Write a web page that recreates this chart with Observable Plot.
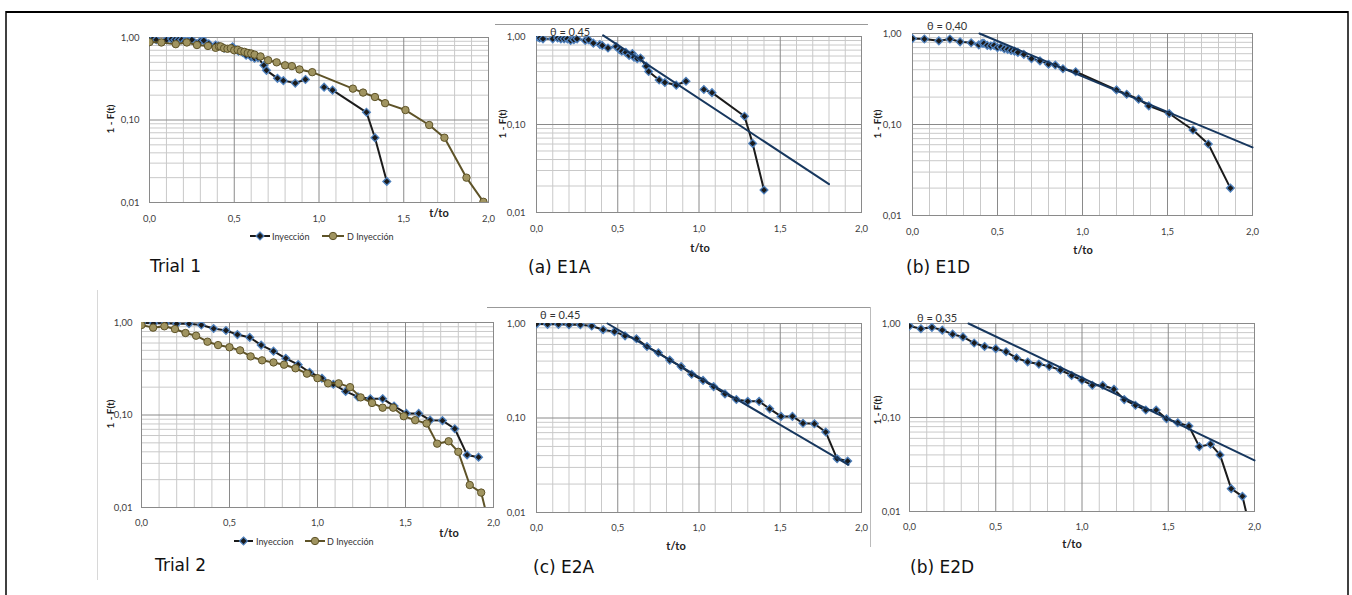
<!DOCTYPE html>
<html><head><meta charset="utf-8">
<script src="https://cdn.jsdelivr.net/npm/d3@7"></script>
<script src="https://cdn.jsdelivr.net/npm/@observablehq/plot@0.6"></script>
<style>
body{margin:0;background:#fff;}
#root{position:relative;width:1352px;height:595px;overflow:hidden;font-family:Lato,"Open Sans",sans-serif;}
#root svg.plotsvg{position:absolute;overflow:visible;}
.t{position:absolute;white-space:nowrap;line-height:1;color:#222;}
.cap{font-family:"DejaVu Sans",sans-serif;font-size:17px;color:#111;}
.yl{font-size:10px;font-weight:bold;transform:translate(-50%,-50%) rotate(-90deg);}
.xl{font-size:11px;font-weight:bold;}
.th{font-size:11px;color:#333;}
.lg{font-size:9px;color:#333;}
</style>
</head><body><div id="root"></div>
<script>
// ---------- data ----------
// Trial 1, Inyección (E1A)
const A1_t = [0.00,0.01,0.02,0.04,0.10,0.13,0.15,0.17,0.19,0.21,0.23,0.25,0.30,0.32,0.35,0.39,0.405,0.44,0.49,0.51,0.525,0.55,0.57,0.59,0.60,0.62,0.64,0.675,0.69,0.755,0.79,0.86,0.92,0.975,1.03,1.08,1.28,1.33,1.40];
const A1_y = [1.00,0.98,0.96,0.94,0.94,0.96,0.94,0.94,0.94,0.90,0.92,0.94,0.90,0.92,0.84,0.81,0.79,0.74,0.77,0.71,0.68,0.66,0.61,0.64,0.58,0.56,0.57,0.46,0.40,0.32,0.30,0.28,0.31,null,0.25,0.23,0.124,0.061,0.018];
// Trial 1, D Inyección (E1D)
const D1_t = [0.00,0.07,0.155,0.22,0.28,0.345,0.39,0.41,0.42,0.44,0.46,0.48,0.50,0.52,0.54,0.56,0.58,0.60,0.62,0.655,0.70,0.75,0.80,0.84,0.885,0.96,1.20,1.26,1.33,1.39,1.51,1.65,1.74,1.87];
const D1_y = [0.88,0.87,0.83,0.87,0.81,0.79,0.75,0.78,0.78,0.74,0.73,0.74,0.70,0.71,0.68,0.67,0.65,0.64,0.62,0.59,0.53,0.50,0.46,0.45,0.41,0.38,0.24,0.215,0.19,0.16,0.132,0.087,0.061,0.020];
const D1_tail_t = [1.97];
const D1_tail_y = [0.0102];
// Trial 2, Inyeccion (E2A)
const A2_t = [0.00,0.068,0.135,0.20,0.27,0.34,0.41,0.48,0.545,0.615,0.68,0.75,0.82,0.89,0.955,1.025,1.09,1.16,1.23,1.30,1.37,1.435,1.505,1.575,1.64,1.71,1.78,1.85,1.915];
const A2_y = [0.99,0.98,0.98,0.97,0.97,0.94,0.86,0.82,0.74,0.69,0.57,0.49,0.41,0.35,0.29,0.25,0.215,0.18,0.157,0.15,0.15,0.125,0.104,0.104,0.088,0.087,0.071,0.037,0.035];
// Trial 2, D Inyección (E2D)
const D2_t = [0.00,0.066,0.13,0.19,0.25,0.31,0.375,0.435,0.50,0.56,0.62,0.685,0.75,0.81,0.875,0.94,1.00,1.06,1.12,1.185,1.245,1.31,1.37,1.43,1.49,1.555,1.62,1.68,1.745,1.80,1.865,1.93,1.99];
const D2_y = [0.94,0.88,0.91,0.85,0.77,0.72,0.62,0.57,0.54,0.50,0.43,0.39,0.37,0.35,0.32,0.28,0.25,0.22,0.22,0.20,0.155,0.135,0.12,0.12,0.097,0.088,0.081,0.049,0.052,0.040,0.0175,0.0145,0.005];
// fitted lines (endpoints)
const fitE1A_t = [0.41, 1.80], fitE1A_y = [1.03, 0.021];
const fitE1D_t = [0.394, 2.0], fitE1D_y = [1.0, 0.056];
const fitE2A_t = [0.437, 1.92], fitE2A_y = [1.0, 0.032];
const fitE2D_t = [0.342, 2.0], fitE2D_y = [1.0, 0.035];
const thetaLabels = ["θ = 0,45", "θ = 0,40", "θ = 0.45", "θ = 0,35"];
const captions = ["Trial 1", "(a) E1A", "(b) E1D", "Trial 2", "(c) E2A", "(b) E2D"];
const legendNames1 = ["Inyección", "D Inyección"];
const legendNames2 = ["Inyeccion", "D Inyección"];
const xTicks = [0, 0.5, 1, 1.5, 2];
const xTickLabels = ["0,0", "0,5", "1,0", "1,5", "2,0"];
const yTicks = [0.01, 0.1, 1];
const yTickLabels = ["0,01", "0,10", "1,00"];
const xAxisTitle = "t/to", yAxisTitle = "1 - F(t)";

// ---------- helpers ----------
const root = document.getElementById("root");
const xMinor = d3.range(1, 20).filter(i => i % 5 !== 0).map(i => i / 10);
const xMajor = [0.5, 1, 1.5];
const yMinor = [0.01, 0.1].flatMap(d => d3.range(2, 10).map(k => +(k * d).toPrecision(3)));
const yMajor = [0.1];
const BLUE = "#4f81bd", DARK = "#1b1b1b", BROWN = "#5e5328", KHAKI = "#a09460", NAVY = "#17375e";
const rows = (t, y) => t.map((v, i) => ({t: v, y: y[i]}));

function panel(p) {
  const ml = 45, mr = 16, mt = 6, mb = 30;
  const marks = [
    Plot.ruleX(xMinor, {stroke: "#c9c9c9"}),
    Plot.ruleY(yMinor, {stroke: "#c9c9c9"}),
    Plot.ruleX(xMajor, {stroke: "#8a8a8a"}),
    Plot.ruleY(yMajor, {stroke: "#8a8a8a"}),
    Plot.frame({stroke: "#8a8a8a"})
  ];
  for (const s of p.series) {
    const data = rows(s.t, s.y);
    if (s.style === "A") {
      marks.push(Plot.line(data, {x: "t", y: "y", stroke: DARK, strokeWidth: 2, clip: true}));
      marks.push(Plot.dot(data, {x: "t", y: "y", symbol: "diamond2", r: 3.5, fill: DARK, stroke: BLUE, strokeWidth: 1.3, clip: true}));
    } else {
      marks.push(Plot.line(data, {x: "t", y: "y", stroke: BROWN, strokeWidth: 2, clip: true}));
      marks.push(Plot.dot(data, {x: "t", y: "y", r: 3.7, fill: KHAKI, stroke: BROWN, strokeWidth: 1, clip: true}));
    }
  }
  if (p.fit) marks.push(Plot.line(rows(p.fit[0], p.fit[1]), {x: "t", y: "y", stroke: NAVY, strokeWidth: 2}));
  const svg = Plot.plot({
    width: p.w + ml + mr, height: p.h + mt + mb,
    marginLeft: ml, marginRight: mr, marginTop: mt, marginBottom: mb,
    style: {background: "transparent", fontFamily: "Lato, 'Open Sans', sans-serif", fontSize: "9.5px", color: "#404040", overflow: "visible"},
    x: {domain: [0, 2], ticks: xTicks, tickFormat: d => xTickLabels[xTicks.indexOf(d)], tickSize: 0, tickPadding: p.xpad, label: null},
    y: {type: "log", domain: [0.01, 1], ticks: yTicks, tickFormat: d => yTickLabels[yTicks.indexOf(d)], tickSize: 0, tickPadding: p.ypad, label: null},
    marks
  });
  svg.classList.add("plotsvg");
  svg.style.left = (p.left - ml) + "px";
  svg.style.top = (p.top - mt) + "px";
  root.appendChild(svg);
}

function text(str, x, y, cls, center) {
  const d = document.createElement("div");
  d.className = "t " + cls;
  d.textContent = str;
  d.style.left = x + "px";
  d.style.top = y + "px";
  if (!cls.includes("yl")) d.style.transform = center ? "translate(-50%,-50%)" : "translate(0,-50%)";
  root.appendChild(d);
}

// ---------- decorations ----------
const deco = d3.create("svg").attr("width", 1352).attr("height", 595)
  .style("position", "absolute").style("left", 0).style("top", 0);
deco.append("line").attr("x1", 6).attr("x2", 1348).attr("y1", 12).attr("y2", 12).attr("stroke", "#000").attr("stroke-width", 2);
deco.append("line").attr("x1", 6).attr("x2", 6).attr("y1", 11).attr("y2", 595).attr("stroke", "#000").attr("stroke-width", 1.5);
deco.append("line").attr("x1", 1348).attr("x2", 1348).attr("y1", 11).attr("y2", 595).attr("stroke", "#000").attr("stroke-width", 1.5);
deco.append("line").attr("x1", 495).attr("x2", 868).attr("y1", 24.5).attr("y2", 24.5).attr("stroke", "#999");
deco.append("line").attr("x1", 487).attr("x2", 870).attr("y1", 307.5).attr("y2", 307.5).attr("stroke", "#999");
deco.append("line").attr("x1", 870.5).attr("x2", 870.5).attr("y1", 307).attr("y2", 547).attr("stroke", "#bbb");
deco.append("line").attr("x1", 97.5).attr("x2", 97.5).attr("y1", 290).attr("y2", 580).attr("stroke", "#d8d8d8");
// legends
function legendItem(x0, x1, y, kind) {
  const cx = (x0 + x1) / 2;
  if (kind === "A") {
    deco.append("line").attr("x1", x0).attr("x2", x1).attr("y1", y).attr("y2", y).attr("stroke", DARK).attr("stroke-width", 2);
    deco.append("path").attr("d", `M${cx},${y-4}L${cx+4},${y}L${cx},${y+4}L${cx-4},${y}Z`).attr("fill", DARK).attr("stroke", BLUE).attr("stroke-width", 1.2);
  } else {
    deco.append("line").attr("x1", x0).attr("x2", x1).attr("y1", y).attr("y2", y).attr("stroke", BROWN).attr("stroke-width", 2);
    deco.append("circle").attr("cx", cx).attr("cy", y).attr("r", 3.7).attr("fill", KHAKI).attr("stroke", BROWN);
  }
}
legendItem(250, 270, 236, "A"); legendItem(322, 344, 236, "D");
legendItem(234, 253, 541, "A"); legendItem(305, 325, 541, "D");
root.appendChild(deco.node());

// ---------- panels ----------
panel({left: 149, top: 36.7, w: 339, h: 165, xpad: 13, ypad: 10,
  series: [{t: A1_t, y: A1_y, style: "A"}, {t: D1_t.concat(D1_tail_t), y: D1_y.concat(D1_tail_y), style: "D"}]});
panel({left: 536, top: 36, w: 325, h: 176, xpad: 13, ypad: 11,
  series: [{t: A1_t, y: A1_y, style: "A"}], fit: [fitE1A_t, fitE1A_y]});
panel({left: 912, top: 33, w: 340, h: 182, xpad: 13, ypad: 11,
  series: [{t: D1_t, y: D1_y, style: "A"}], fit: [fitE1D_t, fitE1D_y]});
panel({left: 141, top: 322, w: 352, h: 185, xpad: 12, ypad: 9,
  series: [{t: A2_t, y: A2_y, style: "A"}, {t: D2_t, y: D2_y, style: "D"}]});
panel({left: 536, top: 323, w: 325, h: 189, xpad: 12, ypad: 11,
  series: [{t: A2_t, y: A2_y, style: "A"}], fit: [fitE2A_t, fitE2A_y]});
panel({left: 909, top: 323, w: 345, h: 188, xpad: 12, ypad: 9,
  series: [{t: D2_t, y: D2_y, style: "A"}], fit: [fitE2D_t, fitE2D_y]});

// ---------- texts ----------
text(captions[0], 150, 266, "cap");
text(captions[1], 528, 267, "cap");
text(captions[2], 906, 267, "cap");
text(captions[3], 155, 565, "cap");
text(captions[4], 533, 567, "cap");
text(captions[5], 910, 567, "cap");
text(yAxisTitle, 110, 119, "yl");
text(yAxisTitle, 502, 124, "yl");
text(yAxisTitle, 877, 124, "yl");
text(yAxisTitle, 110, 414, "yl");
text(yAxisTitle, 877, 410, "yl");
text(xAxisTitle, 439, 212, "xl", true);
text(xAxisTitle, 700, 247, "xl", true);
text(xAxisTitle, 1083, 249, "xl", true);
text(xAxisTitle, 449, 532, "xl", true);
text(xAxisTitle, 676, 545, "xl", true);
text(xAxisTitle, 1072, 543, "xl", true);
text(thetaLabels[0], 550, 31, "th");
text(thetaLabels[1], 927, 25, "th");
text(thetaLabels[2], 540, 314, "th");
text(thetaLabels[3], 917, 317, "th");
text(legendNames1[0], 272, 236, "lg");
text(legendNames1[1], 347, 236, "lg");
text(legendNames2[0], 256, 541, "lg");
text(legendNames2[1], 327, 541, "lg");
</script>
</body></html>
